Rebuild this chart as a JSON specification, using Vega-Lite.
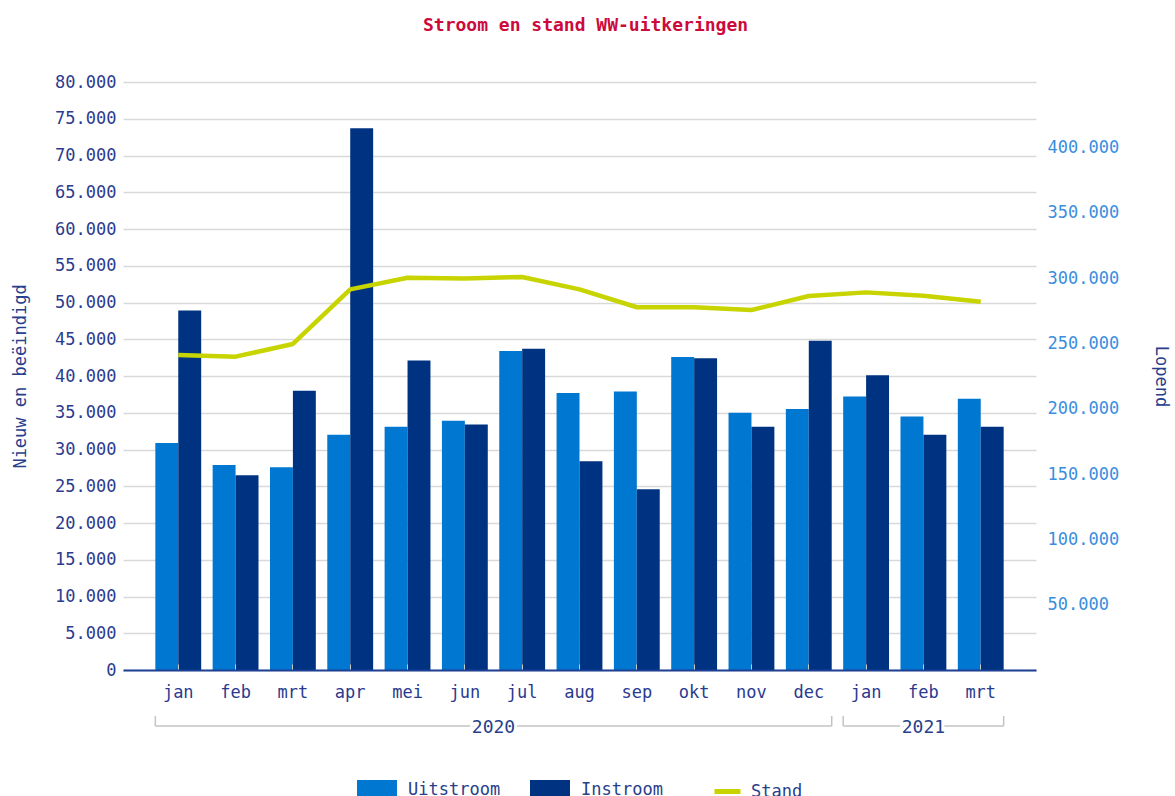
{
  "$schema": "https://vega.github.io/schema/vega-lite/v6.json",
  "width": 913,
  "height": 588,
  "autosize": {"type": "none"},
  "padding": {"left": 123, "top": 82, "right": 139, "bottom": 126},
  "background": "white",
  "title": {
    "text": "Stroom en stand WW-uitkeringen",
    "font": "DejaVu Sans Mono",
    "fontSize": 18,
    "fontWeight": "bold",
    "color": "#cc0a3c",
    "anchor": "middle",
    "baseline": "alphabetic",
    "offset": 24,
    "dx": 6
  },
  "datasets": {
    "maanden": [
      {"key": "jan 2020", "Uitstroom": 30900, "Instroom": 48900, "Stand": 241000},
      {"key": "feb 2020", "Uitstroom": 27900, "Instroom": 26500, "Stand": 239800},
      {"key": "mrt 2020", "Uitstroom": 27600, "Instroom": 38000, "Stand": 249500},
      {"key": "apr 2020", "Uitstroom": 32000, "Instroom": 73700, "Stand": 291300},
      {"key": "mei 2020", "Uitstroom": 33100, "Instroom": 42100, "Stand": 300200},
      {"key": "jun 2020", "Uitstroom": 33900, "Instroom": 33400, "Stand": 299700},
      {"key": "jul 2020", "Uitstroom": 43400, "Instroom": 43700, "Stand": 300800},
      {"key": "aug 2020", "Uitstroom": 37700, "Instroom": 28400, "Stand": 291300},
      {"key": "sep 2020", "Uitstroom": 37900, "Instroom": 24600, "Stand": 277600},
      {"key": "okt 2020", "Uitstroom": 42600, "Instroom": 42400, "Stand": 277600},
      {"key": "nov 2020", "Uitstroom": 35000, "Instroom": 33100, "Stand": 275500},
      {"key": "dec 2020", "Uitstroom": 35500, "Instroom": 44800, "Stand": 286200},
      {"key": "jan 2021", "Uitstroom": 37200, "Instroom": 40100, "Stand": 289000},
      {"key": "feb 2021", "Uitstroom": 34500, "Instroom": 32000, "Stand": 286500},
      {"key": "mrt 2021", "Uitstroom": 36900, "Instroom": 33100, "Stand": 281900}
    ],
    "jaren": [
      {"jaar": "2020", "eerste": "jan 2020", "laatste": "dec 2020", "midden": "jun 2020"},
      {"jaar": "2021", "eerste": "jan 2021", "laatste": "mrt 2021", "midden": "feb 2021"}
    ]
  },
  "layer": [
    {
      "data": {"name": "maanden"},
      "transform": [{"fold": ["Uitstroom", "Instroom"], "as": ["reeks", "aantal"]}],
      "mark": {"type": "bar"},
      "encoding": {
        "x": {
          "field": "key",
          "type": "nominal",
          "scale": {
            "domain": ["jan 2020", "feb 2020", "mrt 2020", "apr 2020", "mei 2020", "jun 2020", "jul 2020", "aug 2020", "sep 2020", "okt 2020", "nov 2020", "dec 2020", "jan 2021", "feb 2021", "mrt 2021"],
            "paddingInner": 0.2,
            "paddingOuter": 0.564
          },
          "axis": {
            "title": null,
            "labelExpr": "split(datum.value, ' ')[0]",
            "labelAngle": 0,
            "labelColor": "#2a3a8f",
            "domainColor": "#1d3f94",
            "domainWidth": 2,
            "ticks": true,
            "tickSize": -6,
            "tickColor": "#c8c8c8",
            "tickWidth": 1,
            "labelPadding": 20,
            "grid": false,
            "zindex": 1
          }
        },
        "xOffset": {
          "field": "reeks",
          "type": "nominal",
          "scale": {"domain": ["Uitstroom", "Instroom"], "paddingInner": 0, "paddingOuter": 0}
        },
        "y": {
          "field": "aantal",
          "type": "quantitative",
          "scale": {"domain": [0, 80000], "nice": false},
          "axis": {
            "orient": "left",
            "title": "Nieuw en beëindigd",
            "values": [0, 5000, 10000, 15000, 20000, 25000, 30000, 35000, 40000, 45000, 50000, 55000, 60000, 65000, 70000, 75000, 80000],
            "labelOverlap": false,
            "labelExpr": "replace(format(datum.value, ','), ',', '.')",
            "grid": true,
            "gridColor": "#d9d9d9",
            "gridWidth": 1.5,
            "domain": false,
            "ticks": false,
            "labelPadding": 7,
            "labelColor": "#2b3b8f",
            "titleColor": "#27408b",
            "titlePadding": 25
          }
        },
        "color": {
          "field": "reeks",
          "type": "nominal",
          "scale": {"domain": ["Uitstroom", "Instroom"], "range": ["#0077d1", "#003282"]},
          "legend": {
            "title": null,
            "orient": "none",
            "legendX": 233,
            "legendY": 687,
            "direction": "horizontal",
            "symbolType": "M-1,-0.5H1V0.5H-1Z",
            "symbolSize": 1600,
            "labelOffset": 10,
            "columnPadding": 28
          }
        }
      }
    },
    {
      "data": {"name": "jaren"},
      "mark": {"type": "rule", "color": "#c3c3c3", "strokeWidth": 1.5},
      "encoding": {
        "x": {"field": "eerste", "type": "nominal", "bandPosition": 0},
        "x2": {"field": "laatste", "bandPosition": 1},
        "y": {"datum": -7620, "type": "quantitative", "scale": {"domain": [0, 80000], "nice": false}, "axis": null}
      }
    },
    {
      "data": {"name": "jaren"},
      "mark": {"type": "rule", "color": "#c3c3c3", "strokeWidth": 1.5},
      "encoding": {
        "x": {"field": "eerste", "type": "nominal", "bandPosition": 0},
        "y": {"datum": -7620, "type": "quantitative", "scale": {"domain": [0, 80000], "nice": false}, "axis": null},
        "y2": {"datum": -6260}
      }
    },
    {
      "data": {"name": "jaren"},
      "mark": {"type": "rule", "color": "#c3c3c3", "strokeWidth": 1.5},
      "encoding": {
        "x": {"field": "laatste", "type": "nominal", "bandPosition": 1},
        "y": {"datum": -7620, "type": "quantitative", "scale": {"domain": [0, 80000], "nice": false}, "axis": null},
        "y2": {"datum": -6260}
      }
    },
    {
      "data": {"name": "jaren"},
      "transform": [{"filter": {"field": "jaar", "equal": "2020"}}],
      "mark": {"type": "text", "font": "DejaVu Sans Mono", "fontSize": 18, "baseline": "middle", "align": "center", "color": "white", "stroke": "white", "strokeWidth": 6},
      "encoding": {
        "x": {"field": "midden", "type": "nominal", "bandPosition": 1.125},
        "y": {"datum": -7890, "type": "quantitative", "scale": {"domain": [0, 80000], "nice": false}, "axis": null},
        "text": {"field": "jaar"}
      }
    },
    {
      "data": {"name": "jaren"},
      "transform": [{"filter": {"field": "jaar", "equal": "2020"}}],
      "mark": {"type": "text", "font": "DejaVu Sans Mono", "fontSize": 18, "baseline": "middle", "align": "center", "color": "#27408b"},
      "encoding": {
        "x": {"field": "midden", "type": "nominal", "bandPosition": 1.125},
        "y": {"datum": -7890, "type": "quantitative", "scale": {"domain": [0, 80000], "nice": false}, "axis": null},
        "text": {"field": "jaar"}
      }
    },
    {
      "data": {"name": "jaren"},
      "transform": [{"filter": {"field": "jaar", "equal": "2021"}}],
      "mark": {"type": "text", "font": "DejaVu Sans Mono", "fontSize": 18, "baseline": "middle", "align": "center", "color": "white", "stroke": "white", "strokeWidth": 6},
      "encoding": {
        "x": {"field": "midden", "type": "nominal", "bandPosition": 0.5},
        "y": {"datum": -7890, "type": "quantitative", "scale": {"domain": [0, 80000], "nice": false}, "axis": null},
        "text": {"field": "jaar"}
      }
    },
    {
      "data": {"name": "jaren"},
      "transform": [{"filter": {"field": "jaar", "equal": "2021"}}],
      "mark": {"type": "text", "font": "DejaVu Sans Mono", "fontSize": 18, "baseline": "middle", "align": "center", "color": "#27408b"},
      "encoding": {
        "x": {"field": "midden", "type": "nominal", "bandPosition": 0.5},
        "y": {"datum": -7890, "type": "quantitative", "scale": {"domain": [0, 80000], "nice": false}, "axis": null},
        "text": {"field": "jaar"}
      }
    },
    {
      "data": {"name": "maanden"},
      "mark": {"type": "line", "strokeWidth": 4.5, "strokeJoin": "round"},
      "encoding": {
        "x": {"field": "key", "type": "nominal"},
        "y": {
          "field": "Stand",
          "type": "quantitative",
          "scale": {"domain": [0, 450000], "nice": false},
          "axis": {
            "orient": "right",
            "title": "Lopend",
            "values": [50000, 100000, 150000, 200000, 250000, 300000, 350000, 400000],
            "labelOverlap": false,
            "labelExpr": "replace(format(datum.value, ','), ',', '.')",
            "grid": false,
            "domain": false,
            "ticks": false,
            "labelPadding": 11,
            "labelColor": "#3a8ee0",
            "titleColor": "#27408b",
            "titlePadding": 33
          }
        },
        "stroke": {
          "datum": "Stand",
          "type": "nominal",
          "scale": {"domain": ["Stand"], "range": ["#c8d400"]},
          "legend": {
            "title": null,
            "orient": "none",
            "legendX": 589,
            "legendY": 694,
            "direction": "horizontal",
            "symbolType": "stroke",
            "symbolSize": 676,
            "symbolStrokeWidth": 5,
            "labelOffset": 8
          }
        }
      }
    }
  ],
  "resolve": {"scale": {"y": "independent"}},
  "config": {
    "view": {"stroke": null},
    "axis": {
      "labelFont": "DejaVu Sans Mono",
      "labelFontSize": 17,
      "titleFont": "DejaVu Sans Mono",
      "titleFontSize": 17,
      "titleFontWeight": "normal"
    },
    "legend": {
      "labelFont": "DejaVu Sans Mono",
      "labelFontSize": 17,
      "labelColor": "#27408b"
    }
  }
}
